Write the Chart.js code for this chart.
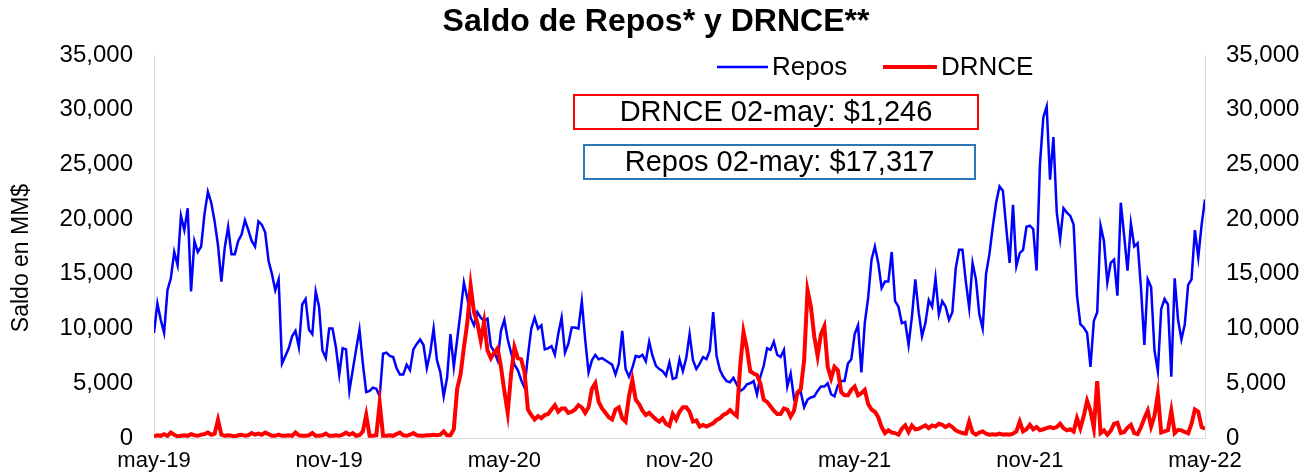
<!DOCTYPE html>
<html>
<head>
<meta charset="utf-8">
<title>Saldo de Repos y DRNCE</title>
<script src="https://cdn.jsdelivr.net/npm/chart.js@4.4.1/dist/chart.umd.min.js"></script>
<style>
  html, body { margin: 0; padding: 0; background: #fff; }
  #chart { display: block; }
</style>
</head>
<body>
<canvas id="chart" width="1312" height="476"></canvas>
<script>
// readings twice a week, 2 may 2019 -> 2 may 2022 (313 points), MM$
var xTickLabels = ['may-19', 'nov-19', 'may-20', 'nov-20', 'may-21', 'nov-21', 'may-22'];
var pointsPerTick = 52;

var repos = [
  9600, 12300, 10800, 9600, 13500, 14600, 17000, 15800, 20300, 19000,
  21000, 13400, 18000, 17000, 17500, 20500, 22500, 21500, 19800, 17600,
  14300, 17400, 19300, 16800, 16800, 18000, 18600, 19900, 19000, 18000,
  17500, 19800, 19500, 18800, 16200, 15000, 13500, 14500, 6800, 7500,
  8200, 9300, 9800, 8300, 12200, 12700, 9900, 9500, 13400, 12000,
  8000, 7300, 10000, 10000, 8300, 5800, 8200, 8100, 4300, 6200,
  8100, 9900, 6800, 4200, 4300, 4600, 4500, 3800, 7700, 7800,
  7500, 7400, 6400, 5800, 5800, 6700, 6200, 8100, 8600, 9000,
  8500, 6400, 7800, 10000, 7100, 6000, 3800, 5500, 9500, 6500,
  9000, 11500, 14200, 12800, 11000, 10300, 11500, 11000, 10700, 10900,
  8400, 7900, 7100, 9800, 10800, 9000, 7800, 6700, 6200, 5300,
  4600, 7500, 10000, 11000, 10000, 10300, 8100, 8200, 8400, 7600,
  9500, 11000, 7800, 8600, 10100, 10100, 10000, 12500, 9000, 6000,
  7100, 7600, 7200, 7300, 7100, 6900, 6700, 5800, 6800, 9800,
  6300, 5600, 6400, 7500, 7400, 7600, 7000, 8800, 7500, 6600,
  6300, 6100, 5700, 6900, 5400, 5500, 7200, 6100, 7300, 9500,
  7100, 6300, 6800, 7400, 7200, 8000, 11500, 7500, 6200, 5600,
  5200, 5100, 5500, 4900, 4300, 4500, 4900, 5000, 5200, 4000,
  5600, 6600, 8200, 8050, 8800, 7600, 7400, 8050, 4700, 5900,
  3600, 4000, 4200, 2800, 3500, 3700, 3800, 4300, 4700, 4700,
  5000, 4000, 3800, 4800, 5200, 5200, 6800, 7200, 9500, 10300,
  6000, 10500, 12800, 16300, 17500, 16000, 13700, 14300, 14300, 17000,
  12500, 12000, 10500, 10600, 8500, 11100, 14500, 11500, 9300, 10500,
  12600, 12000, 14600, 11300, 12500, 12000, 10800, 11500, 15500, 17200,
  17200, 14300, 11900, 16000, 14500, 11300, 10000, 15000, 16800, 19300,
  21500, 23000, 22600, 19200, 16000, 21300, 15700, 16900, 17200, 19300,
  19400, 19100, 15300, 25000, 29300, 30300, 23600, 27500, 20600, 18200,
  21000, 20600, 20300, 19500, 13000, 10400, 10100, 9600, 6500, 10700,
  11500, 19400, 18000, 14200, 16000, 16300, 13000, 21500, 18500, 15300,
  19600, 17500, 17800, 13700, 8500, 14500, 13800, 8000, 6100, 11800,
  12700, 12200, 5600, 14600, 10800, 9000, 10400, 14000, 14500, 19000,
  16500, 19500, 21800
];

var drnce = [
  150, 250, 200, 350, 200, 500, 300, 150, 200, 250,
  200, 350, 250, 200, 300, 350, 500, 300, 400, 1650,
  300, 200, 250, 200, 150, 250, 300, 200, 250, 450,
  300, 400, 300, 500, 350, 200, 200, 300, 200, 200,
  250, 200, 500, 250, 200, 200, 250, 450, 200, 200,
  250, 400, 200, 200, 250, 200, 300, 500, 300, 450,
  200, 250, 600, 2100, 200, 200, 250, 3200, 200, 200,
  250, 200, 350, 500, 250, 200, 300, 450, 250, 200,
  200, 250, 250, 300, 250, 300, 600, 250, 250, 800,
  4500, 5800, 8300, 10500, 13900, 11500, 10500, 8900, 10600, 8000,
  7300, 7800, 8200, 6500, 4300, 2300, 5800, 8300, 7300, 7200,
  6000, 2600, 2100, 1700, 2000, 1800, 2100, 2200, 2600, 3000,
  2400, 2700, 2700, 2300, 2400, 2600, 3000, 2800, 2300, 2800,
  4500, 5000, 3300, 2700, 2300, 1900, 1700, 2600, 2800, 1800,
  1500, 3800, 5300, 3500, 3100, 2500, 2100, 2300, 2000, 1700,
  1500, 1800, 1300, 1100, 2200, 1700, 2400, 2800, 2800, 2400,
  1500, 1600, 1050, 1200, 1050, 1200, 1350, 1650, 1800, 2100,
  2250, 2550, 2250, 2000, 6500, 9700, 8200, 6100, 5900, 5750,
  5000, 3500, 3300, 2900, 2500, 2200, 2200, 2700, 2600, 1950,
  2500, 4150, 4450, 7100, 13500, 12000, 9300, 7500, 9500, 10200,
  6500, 5450, 6500, 6200, 4200, 3900, 3900, 4400, 4700, 3900,
  4100, 4400, 3100, 2600, 2400, 1900, 1000, 450, 700, 500,
  450, 300, 850, 1150, 550, 1150, 800, 850, 1000, 1150,
  900, 1150, 1050, 1300, 1200, 1000, 1200, 1000, 700, 550,
  450, 400, 1500, 500, 300, 500, 600, 400, 300, 350,
  300, 400, 300, 350, 300, 400, 600, 1500, 600, 800,
  1200, 800, 1000, 700, 800, 900, 1000, 900, 1000, 1300,
  900, 700, 800, 600, 1800, 900, 2000, 3400, 2500, 900,
  5200, 450, 700, 300, 650, 1300, 1400, 450, 550, 950,
  1200, 450, 350, 1000, 1800, 2500, 1050, 2000, 4000, 500,
  600, 700, 2500, 450, 750, 700, 550, 430, 1300, 2600,
  2400, 1000, 850
];

var seriesNames = ['Repos', 'DRNCE'];
var seriesColors = ['#0000ff', '#ff0000'];
var noteTexts = ['DRNCE 02-may: $1,246', 'Repos 02-may: $17,317'];
var noteColors = ['#ff0000', '#2e75b6'];
var yTitle = 'Saldo en MM$';

var FONT = 'Arial, "Liberation Sans", sans-serif';

function toPoints(values){
  return values.map(function(v, i){ return {x: i, y: v}; });
}

function fmt(v){
  return Number(v).toLocaleString('en-US');
}

function drawKey(ctx, x1, x2, y, color, width, label){
  ctx.strokeStyle = color;
  ctx.lineWidth = width;
  ctx.beginPath();
  ctx.moveTo(x1, y);
  ctx.lineTo(x2, y);
  ctx.stroke();
  ctx.fillStyle = '#000';
  ctx.font = '26px ' + FONT;
  ctx.textAlign = 'left';
  ctx.textBaseline = 'middle';
  ctx.fillText(label, x2 + 4, y + 1);
}

function drawNote(ctx, x, y, w, h, text, color){
  ctx.fillStyle = '#fff';
  ctx.fillRect(x, y, w, h);
  ctx.strokeStyle = color;
  ctx.lineWidth = 2;
  ctx.strokeRect(x, y, w, h);
  ctx.fillStyle = '#000';
  ctx.font = '29px ' + FONT;
  ctx.textAlign = 'center';
  ctx.textBaseline = 'middle';
  ctx.fillText(text, x + w / 2, y + h / 2 + 1);
}

function drawAxisTitle(ctx, x, y, text){
  ctx.save();
  ctx.translate(x, y);
  ctx.rotate(-Math.PI / 2);
  ctx.fillStyle = '#000';
  ctx.font = '23px ' + FONT;
  ctx.textAlign = 'center';
  ctx.textBaseline = 'middle';
  ctx.fillText(text, 0, 0);
  ctx.restore();
}

var overlay = {
  id: 'overlay',
  afterDraw: function(chart){
    var ctx = chart.ctx;
    ctx.save();
    drawAxisTitle(ctx, 22, 258, yTitle);
    drawKey(ctx, 717, 768, 67, seriesColors[0], 2.5, seriesNames[0]);
    drawKey(ctx, 883, 937, 67, seriesColors[1], 4, seriesNames[1]);
    drawNote(ctx, 574, 95, 404, 34, noteTexts[0], noteColors[0]);
    drawNote(ctx, 584, 145, 391, 34, noteTexts[1], noteColors[1]);
    ctx.restore();
  }
};

function yAxis(position, width){
  return {
    type: 'linear',
    position: position,
    min: 0,
    max: 35000,
    afterFit: function(scale){ scale.width = width; },
    grid: { display: false, drawTicks: false },
    border: { display: true, color: '#d9d9d9', width: 1 },
    ticks: {
      stepSize: 5000,
      padding: 21,
      color: '#000',
      font: { family: FONT, size: 24 },
      callback: function(v){ return fmt(v); }
    }
  };
}

new Chart(document.getElementById('chart'), {
  type: 'line',
  data: {
    datasets: [{
      label: seriesNames[0],
      data: toPoints(repos),
      borderColor: seriesColors[0],
      borderWidth: 2.5,
      pointRadius: 0,
      tension: 0,
      order: 1
    }, {
      label: seriesNames[1],
      data: toPoints(drnce),
      borderColor: seriesColors[1],
      borderWidth: 4,
      pointRadius: 0,
      tension: 0,
      order: 0
    }]
  },
  options: {
    responsive: false,
    animation: false,
    events: [],
    layout: { padding: 0 },
    plugins: {
      legend: { display: false },
      tooltip: { enabled: false },
      title: {
        display: true,
        text: 'Saldo de Repos* y DRNCE**',
        color: '#000',
        font: { family: FONT, size: 32, weight: 'bold', lineHeight: 1.2 },
        padding: { top: 3, bottom: 13.6 }
      }
    },
    scales: {
      x: {
        type: 'linear',
        min: 0,
        max: repos.length - 1,
        afterFit: function(scale){ scale.height = 38; },
        grid: { display: false, drawTicks: false },
        border: { display: true, color: '#d9d9d9', width: 1 },
        ticks: {
          stepSize: pointsPerTick,
          padding: 10,
          maxRotation: 0,
          color: '#000',
          font: { family: FONT, size: 22 },
          callback: function(v){ return xTickLabels[v / pointsPerTick]; }
        }
      },
      y: yAxis('left', 154),
      y2: yAxis('right', 107)
    }
  },
  plugins: [overlay]
});
</script>
</body>
</html>
